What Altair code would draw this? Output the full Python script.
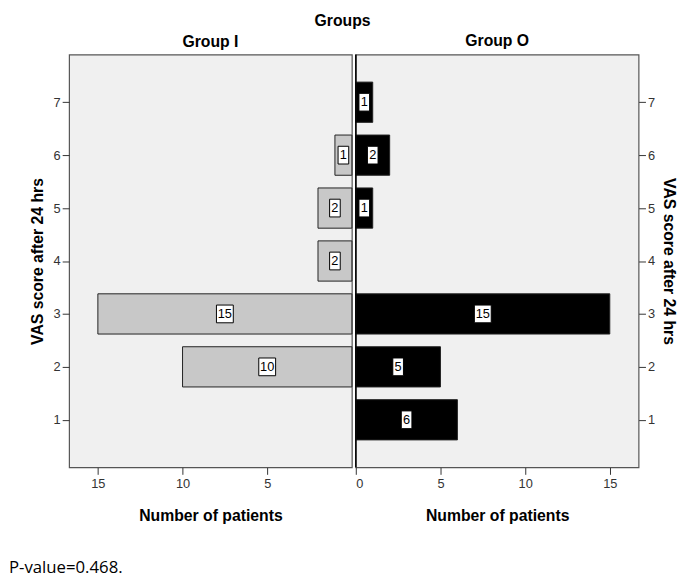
import altair as alt
import pandas as pd

# ---- data ----
vas_scores = [1, 2, 3, 4, 5, 6, 7]
group_i_counts = [0, 10, 15, 2, 2, 1, 0]
group_o_counts = [6, 5, 15, 0, 1, 2, 1]
x_ticks_left = [5, 10, 15]
x_ticks_right = [0, 5, 10, 15]
y_ticks = [1, 2, 3, 4, 5, 6, 7]
p_text = "P-value=0.468."

W = 287
H = 419
XMAX = 16.7
YDOM = [0.1, 7.9]
FONT = "Arial, 'Liberation Sans', sans-serif"

df_i = pd.DataFrame({"vas": vas_scores, "n": group_i_counts})
df_o = pd.DataFrame({"vas": vas_scores, "n": group_o_counts})

BOX1 = "M-0.6,-1H0.6V1H-0.6Z"
BOX2 = "M-0.95,-1H0.95V1H-0.95Z"


def panel(df, fill, reverse, xvals, yorient, header, extra=None):
    xs = alt.Scale(domain=[0, XMAX], reverse=reverse, nice=False, zero=False)
    ys = alt.Scale(domain=YDOM, nice=False, zero=False)
    xaxis = alt.Axis(values=xvals, tickSize=7, labelPadding=3, titlePadding=18,
                     domain=False, grid=False, labelFontSize=13, titleFontSize=16,
                     titleFontWeight="bold", labelColor="#333", tickColor="#333",
                     titleColor="black", labelFont=FONT, titleFont=FONT, format="d")
    yaxis = alt.Axis(values=y_ticks, orient=yorient, tickSize=7, labelPadding=2,
                     titlePadding=8 if yorient == "left" else 6,
                     domain=False, grid=False, labelFontSize=13, titleFontSize=16,
                     titleFontWeight="bold", labelColor="#333", tickColor="#333",
                     titleColor="black", labelFont=FONT, titleFont=FONT, format="d",
                     title="VAS score after 24 hrs")
    base = alt.Chart(df).transform_filter("datum.n > 0").transform_calculate(
        y0="datum.vas - 0.38",
        y1="datum.vas + 0.38",
        xm="datum.n / 2",
        shp=f"datum.n >= 10 ? '{BOX2}' : '{BOX1}'",
    )
    bars = base.mark_rect(fill=fill, stroke="#222", strokeWidth=1).encode(
        x=alt.X("n:Q", scale=xs, axis=xaxis, title="Number of patients"),
        x2=alt.datum(0),
        y=alt.Y("y0:Q", scale=ys, axis=yaxis),
        y2="y1:Q",
    )
    boxes = base.mark_point(filled=True, fill="white", stroke="black", strokeWidth=1,
                            fillOpacity=1, strokeOpacity=1, size=324).encode(
        x="xm:Q", y="vas:Q", shape=alt.Shape("shp:N", scale=None)
    )
    labels = base.mark_text(font=FONT, fontSize=13, color="black", baseline="middle").encode(
        x="xm:Q", y="vas:Q", text="n:Q"
    )
    layers = [bars, boxes, labels]
    if extra is not None:
        layers += extra
    return alt.layer(*layers).properties(
        width=W, height=H,
        title=alt.TitleParams(header, fontSize=16, fontWeight="bold", font=FONT,
                              anchor="middle", offset=5, color="black"),
    )


pval = alt.Chart(pd.DataFrame({"t": [p_text]})).mark_text(
    align="left", baseline="middle", font="'Open Sans', sans-serif", fontSize=17, color="black"
).encode(x=alt.value(-61), y=alt.value(521), text="t:N")

center = alt.Chart(pd.DataFrame({"z": [0]})).mark_rule(color="black", strokeWidth=1.5).encode(
    x=alt.X("z:Q"), y=alt.value(0), y2=alt.value(H)
)

left = panel(df_i, "#c8c8c8", True, x_ticks_left, "left", "Group I", [pval])
right = panel(df_o, "black", False, x_ticks_right, "right", "Group O", [center])

chart = alt.hconcat(left, right, spacing=0).properties(
    padding=0,
    title=alt.TitleParams("Groups", fontSize=16, fontWeight="bold", font=FONT,
                          anchor="middle", offset=4, color="black"),
).configure_view(stroke="#555", fill="#f0f0f0", strokeWidth=1.2)

chart.save("out.html", embed_options={"renderer": "svg", "actions": False})
